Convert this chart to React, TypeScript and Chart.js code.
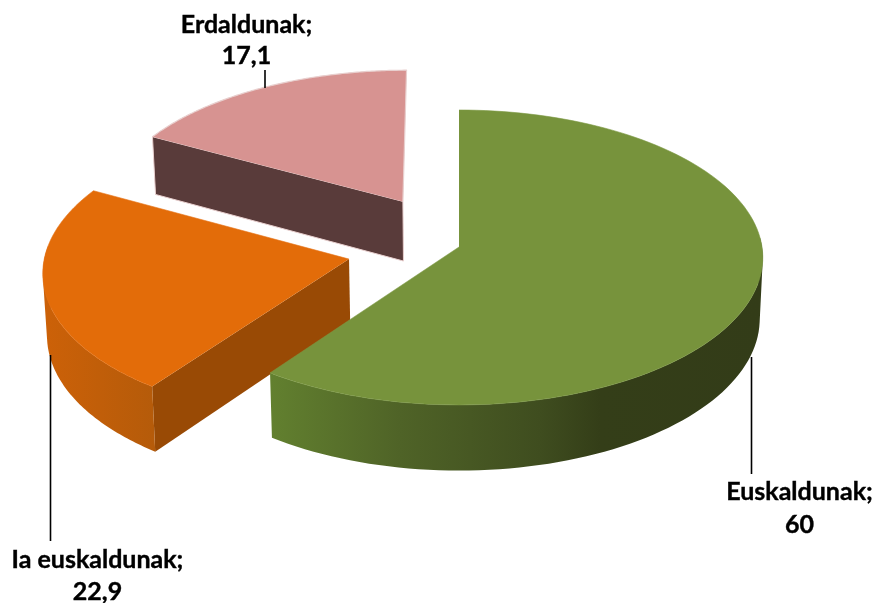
import React, { useEffect, useRef } from "react";
import { Chart, registerables } from "chart.js";

Chart.register(...registerables);

const categories = ["Euskaldunak", "Ia euskaldunak", "Erdaldunak"];
const values = [60, 22.9, 17.1];
const explode = [0, 74, 74];
const topColors = ["#77933C", "#E36C09", "#D79391"];
const edgeColors = ["#7C9843", "#E5741A", "#E8CFCE"];
const radialWallColors = ["#5F7A30", "#994A05", "#593B3A"];
const rimStops: [number, string][][] = [
  [[271, "#62802F"], [400, "#4F6327"], [540, "#3F4D1F"], [600, "#343E18"], [763, "#333C18"]],
  [[45, "#CC6108"], [155, "#B55B0A"]],
  [[150, "#593B3A"], [410, "#593B3A"]],
];

const WIDTH = 876;
const HEIGHT = 603;
const RADIUS = 200;
// Projection of the pie's plane on the page.
const CX = 459;
const CY = 247;
const SX = 303;
const SY = 146.7;
const PERSPECTIVE = 0.071;
const DEPTH = 61;
const DEPTH_SHRINK = 0.99;

// Where each callout sits: text centre, line gap, and the leader line.
const callouts = [
  { x: 799.5, y: 492, gap: 33, lx: 751.5, ly1: 357, ly2: 474 },
  { x: 97.5, y: 560, gap: 32, lx: 50.5, ly1: 355, ly2: 541 },
  { x: 246.5, y: 25, gap: 31, lx: 265, ly1: 70, ly2: 88 },
];

type P = [number, number];

function project(u: number, v: number, bottom: boolean): P {
  const s = 1 / (1 - PERSPECTIVE * v);
  const x = SX * u * s;
  const y = CY + SY * v * s;
  if (bottom) return [CX + x * DEPTH_SHRINK, y + DEPTH * s];
  return [CX + x, y];
}

const STEPS = 120;

function ringAngle(arc: any, i: number) {
  return arc.startAngle + ((arc.endAngle - arc.startAngle) * i) / STEPS;
}

function arcPoints(arc: any, bottom: boolean): P[] {
  const off = arc.options.offset || 0;
  const R = arc.outerRadius;
  const mid = (arc.startAngle + arc.endAngle) / 2;
  const ox = (Math.cos(mid) * off) / R;
  const oy = (Math.sin(mid) * off) / R;
  const pts: P[] = [];
  for (let i = 0; i <= STEPS; i++) {
    const a = ringAngle(arc, i);
    pts.push(project(Math.cos(a) + ox, Math.sin(a) + oy, bottom));
  }
  return pts;
}

function apex(arc: any, bottom: boolean): P {
  const off = arc.options.offset || 0;
  const R = arc.outerRadius;
  const mid = (arc.startAngle + arc.endAngle) / 2;
  return project((Math.cos(mid) * off) / R, (Math.sin(mid) * off) / R, bottom);
}

function polygon(ctx: CanvasRenderingContext2D, pts: P[]) {
  ctx.beginPath();
  pts.forEach((p, i) => (i ? ctx.lineTo(p[0], p[1]) : ctx.moveTo(p[0], p[1])));
  ctx.closePath();
}

// Adds a quad to the current path, always with the same winding.
function addQuad(ctx: CanvasRenderingContext2D, q: P[]) {
  let area = 0;
  q.forEach((p, i) => {
    const n = q[(i + 1) % q.length];
    area += p[0] * n[1] - n[0] * p[1];
  });
  const pts = area < 0 ? q.slice().reverse() : q;
  pts.forEach((p, i) => (i ? ctx.lineTo(p[0], p[1]) : ctx.moveTo(p[0], p[1])));
  ctx.closePath();
}

const pie3d = {
  id: "pie3d",
  beforeDatasetDraw(chart: any) {
    const ctx: CanvasRenderingContext2D = chart.ctx;
    const arcs = chart.getDatasetMeta(0).data;
    ctx.save();
    ctx.lineJoin = "round";
    // back to front
    for (let i = arcs.length - 1; i >= 0; i--) {
      const arc = arcs[i];
      const top = arcPoints(arc, false);
      const bot = arcPoints(arc, true);
      const a = apex(arc, false);
      const b = apex(arc, true);
      const edge = edgeColors[i];

      // radial wall at the start of the slice (the only one that faces the viewer)
      if (arc.options.offset > 0) {
        polygon(ctx, [a, top[0], bot[0], b]);
        ctx.fillStyle = radialWallColors[i];
        ctx.fill();
        if (i === 2) {
          ctx.strokeStyle = edge;
          ctx.lineWidth = 1;
          ctx.stroke();
        }
      }
      // outer rim: one compound path of quads, only where the rim faces the viewer
      const x0 = rimStops[i][0][0];
      const x1 = rimStops[i][rimStops[i].length - 1][0];
      const grad = ctx.createLinearGradient(x0, 0, x1, 0);
      rimStops[i].forEach(([x, c]) => grad.addColorStop((x - x0) / (x1 - x0), c));
      ctx.beginPath();
      let any = false;
      for (let k = 0; k < STEPS; k++) {
        if (Math.sin(ringAngle(arc, k)) < -0.08) continue;
        addQuad(ctx, [top[k], top[k + 1], bot[k + 1], bot[k]]);
        any = true;
      }
      if (any) {
        ctx.fillStyle = grad;
        ctx.fill("nonzero");
      }
      // top face
      polygon(ctx, [a, ...top]);
      ctx.fillStyle = arc.options.backgroundColor;
      ctx.fill();
      // edge along the arc and the far radial side
      ctx.beginPath();
      top.forEach((p, k) => (k ? ctx.lineTo(p[0], p[1]) : ctx.moveTo(p[0], p[1])));
      ctx.lineTo(a[0], a[1]);
      ctx.strokeStyle = edge;
      ctx.lineWidth = i === 2 ? 1.2 : 0.6;
      ctx.stroke();
    }
    ctx.restore();
    return false;
  },
  afterDatasetsDraw(chart: any) {
    const ctx: CanvasRenderingContext2D = chart.ctx;
    ctx.save();
    ctx.strokeStyle = "#000000";
    ctx.fillStyle = "#000000";
    ctx.font = "bold 25px Lato";
    ctx.textAlign = "center";
    ctx.textBaseline = "middle";
    callouts.forEach((c, i) => {
      ctx.lineWidth = 1.6;
      ctx.beginPath();
      ctx.moveTo(c.lx, c.ly1);
      ctx.lineTo(c.lx, c.ly2);
      ctx.stroke();
      const lines = [`${categories[i]};`, String(values[i]).replace(".", ",")];
      ctx.lineWidth = 0.4;
      lines.forEach((t, n) => {
        ctx.fillText(t, c.x, c.y + n * c.gap);
        ctx.strokeText(t, c.x, c.y + n * c.gap);
      });
    });
    ctx.restore();
  },
};

export default function App() {
  const ref = useRef<HTMLCanvasElement>(null);
  useEffect(() => {
    document.body.style.margin = "0";
    document.body.style.background = "#ffffff";
    const chart = new Chart(ref.current as HTMLCanvasElement, {
      type: "pie",
      data: {
        labels: categories,
        datasets: [
          {
            data: values,
            backgroundColor: topColors,
            offset: explode,
            borderWidth: 0,
            radius: RADIUS,
          } as any,
        ],
      },
      options: {
        responsive: false,
        animation: false,
        devicePixelRatio: 1,
        plugins: { legend: { display: false }, tooltip: { enabled: false }, title: { display: false } },
      },
      plugins: [pie3d as any],
    });
    return () => chart.destroy();
  }, []);
  return <canvas ref={ref} width={WIDTH} height={HEIGHT} style={{ display: "block" }} />;
}
